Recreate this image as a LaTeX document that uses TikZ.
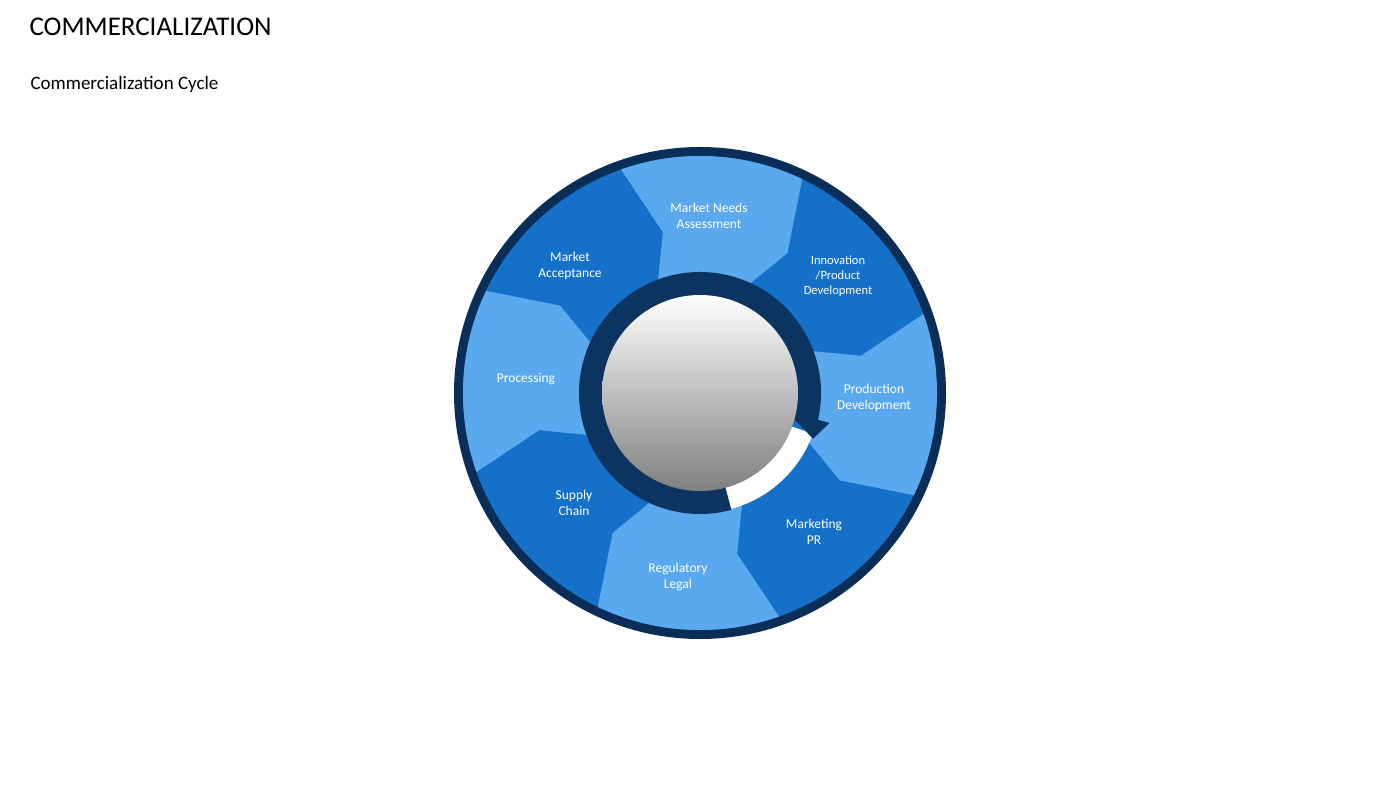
\documentclass[tikz,border=0pt]{standalone}
\usepackage{fontspec}
\setmainfont{Carlito}
\definecolor{lightb}{HTML}{5AA9EE}
\definecolor{darkb}{HTML}{1570C8}
\definecolor{navy}{HTML}{0A2E57}
\definecolor{ringc}{HTML}{0B3560}
\begin{document}
\begin{tikzpicture}[x=1pt,y=1pt,
  lbl/.style={text=white,font=\fontsize{13.5}{16}\selectfont,align=center},
  lbls/.style={text=white,font=\fontsize{12.5}{15}\selectfont,align=center}]
\useasboundingbox (0,0) rectangle (1400,788);
\node[anchor=base west,font=\fontsize{27}{30}\selectfont] (title) at (26,752) {COMMERCIALIZATION};
\node[anchor=base west,font=\fontsize{19}{22}\selectfont] (sub) at (27,698) {Commercialization Cycle};
\begin{scope}[shift={(700,395)}]
  \fill[navy] (0,0) circle (246);
  \begin{scope}
    \clip (0,0) circle (237);
    \fill[darkb] (0,0) circle (237);
    \foreach \a in {67.5,-22.5,-112.5,157.5}{
      \pgfmathsetmacro{\b}{\a+45}
      \pgfmathsetmacro{\am}{\a-9.5}
      \pgfmathsetmacro{\bm}{\b-9.5}
      \pgfmathsetmacro{\c}{\a+22.5}
      \fill[lightb] (\a:112)--(\am:165)--(\a:300)--(\c:400)--(\b:300)--(\bm:165)--(\b:112)--cycle;
    }
  \end{scope}
  % inner ring
  \fill[white] (-75:120) arc[start angle=-75,end angle=-20,radius=120] -- (-20:98) arc[start angle=-20,end angle=-75,radius=98] -- cycle;
  \fill[ringc] (-13:121) arc[start angle=-13,end angle=-75+360,radius=121] -- (-75:97) arc[start angle=285,end angle=-13,radius=97] -- cycle;
  \fill[ringc] (-12:88) -- (-13:133) -- (-22:122) -- cycle;
  \shade[top color=white,bottom color=black!50] (0,0) circle (98);
  \node[lbl] (mna) at (9,177) {Market Needs\\Assessment};
  \node[lbl] (ma) at (-130,127) {Market\\Acceptance};
  \node[lbls] (ipd) at (138,117) {Innovation\\/Product\\Development};
  \node[lbl] (pd) at (174,-5) {Production\\Development};
  \node[lbl] (proc) at (-174,14) {Processing};
  \node[lbl] (sc) at (-126,-110) {Supply\\Chain};
  \node[lbl] (rl) at (-22,-184) {Regulatory\\Legal};
  \node[lbl] (mpr) at (114,-139) {Marketing\\PR};
\end{scope}
\end{tikzpicture}
\end{document}
